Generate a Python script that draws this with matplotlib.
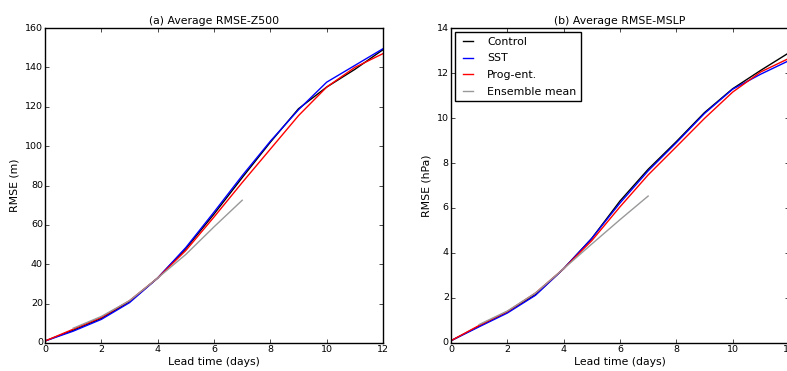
import matplotlib
matplotlib.use('Agg')
import matplotlib.pyplot as plt

plt.style.use('classic')

days = list(range(13))
days_ens = list(range(1, 8))

# (a) Z500 RMSE (m)
z500_control = [1, 6.5, 12.5, 21, 33, 48, 65.5, 84, 102, 119, 130, 139, 149]
z500_sst = [1, 6, 12, 20.5, 33, 48.5, 66.5, 85, 102.5, 118.5, 132.5, 141, 149.5]
z500_prog = [1, 7, 13, 21.5, 33, 47, 64, 81.5, 98.5, 115.5, 130, 140, 147]
z500_ens = [7.5, 13.5, 21.5, 33, 45, 59, 72.5]

# (b) MSLP RMSE (hPa)
mslp_control = [0.1, 0.75, 1.38, 2.15, 3.3, 4.65, 6.31, 7.72, 8.95, 10.24, 11.3, 12.12, 12.9]
mslp_sst = [0.1, 0.72, 1.33, 2.12, 3.3, 4.65, 6.22, 7.65, 8.9, 10.2, 11.28, 11.95, 12.55]
mslp_prog = [0.1, 0.78, 1.4, 2.22, 3.3, 4.55, 6.05, 7.47, 8.72, 9.98, 11.15, 12.05, 12.65]
mslp_ens = [0.82, 1.42, 2.22, 3.3, 4.4, 5.48, 6.53]

fig = plt.figure(figsize=(7.87, 3.71), dpi=100)
fig.patch.set_facecolor('white')

ax1 = fig.add_axes([0.0572, 0.0755, 0.4295, 0.849])
ax2 = fig.add_axes([0.573, 0.0755, 0.4295, 0.849])

panels = [
    (ax1, z500_control, z500_sst, z500_prog, z500_ens, 160, 'RMSE (m)', '(a) Average RMSE-Z500'),
    (ax2, mslp_control, mslp_sst, mslp_prog, mslp_ens, 14, 'RMSE (hPa)', '(b) Average RMSE-MSLP'),
]

for ax, ctl, sst, prog, ens, ymax, ylab, title in panels:
    ax.plot(days, ctl, color='k', lw=1, label='Control')
    ax.plot(days, sst, color='b', lw=1, label='SST')
    ax.plot(days, prog, color='r', lw=1, label='Prog-ent.')
    ax.plot(days_ens, ens, color='0.6', lw=1, label='Ensemble mean')
    ax.set_xlim(0, 12)
    ax.set_ylim(0, ymax)
    ax.set_xlabel('Lead time (days)', fontsize=7.8, labelpad=2)
    ax.set_ylabel(ylab, fontsize=7.8, labelpad=4)
    ax.set_title(title, fontsize=7.8, pad=3)
    ax.tick_params(labelsize=6.8, length=3, pad=1.5)
    ax.set_facecolor('white')

ax2.legend(loc='upper left', fontsize=7.9, handlelength=1.5, handletextpad=1.0,
           borderaxespad=0.4, labelspacing=0.6, frameon=True)

fig.savefig('out.png', dpi=100, facecolor='white')
